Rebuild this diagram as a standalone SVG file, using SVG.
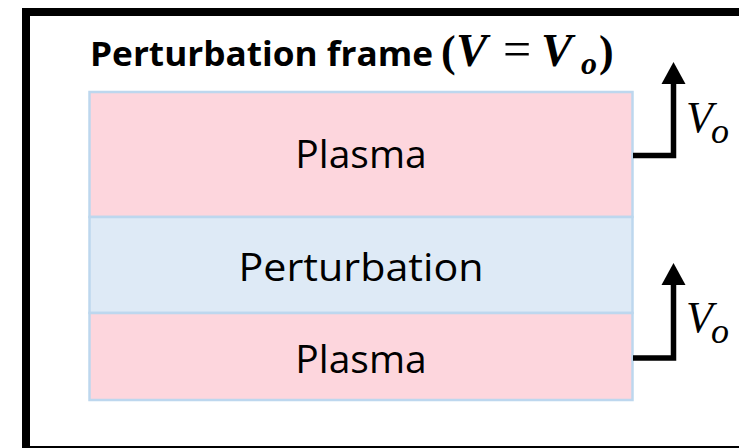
<svg xmlns="http://www.w3.org/2000/svg" width="739" height="448" viewBox="0 0 739 448">
  <style>
    .frame { fill: none; stroke: #000000; stroke-width: 8; stroke-linecap: square; }
    .plasma { fill: #FDD6DD; stroke: #BDD7EE; stroke-width: 2.5; }
    .pert { fill: #DEEAF6; stroke: #BDD7EE; stroke-width: 2.5; }
    .lbl { font-family: "Open Sans", "Noto Sans", "Liberation Sans", sans-serif; font-size: 39px; fill: #000; text-anchor: middle; }
    .title { font-family: "Open Sans", "Noto Sans", "Liberation Sans", sans-serif; font-size: 34px; font-weight: bold; fill: #000; }
    .math { font-family: "Liberation Serif", "DejaVu Serif", serif; fill: #000; }
    .conn { fill: none; stroke: #000; stroke-width: 5.5; stroke-linejoin: miter; }
    .head { fill: #000; }
  </style>
  <rect width="739" height="448" fill="#ffffff"/>
  <path id="frame" class="frame" d="M739,12 H26 V450 H739"/>

  <g id="title">
    <text class="title" x="90" y="66" textLength="343" lengthAdjust="spacingAndGlyphs">Perturbation frame</text>
    <text class="math" y="66" font-weight="bold"><tspan x="441" font-size="44">(</tspan><tspan x="456" font-size="47" font-style="italic">V</tspan><tspan x="503" font-size="50" font-weight="normal">=</tspan><tspan x="541" font-size="47" font-style="italic">V</tspan><tspan x="581" y="74" font-size="32" font-style="italic">o</tspan><tspan x="599" y="66" font-size="44">)</tspan></text>
  </g>

  <g id="plasma-top">
    <rect class="plasma" x="89.5" y="92" width="543" height="125"/>
    <text class="lbl" x="361" y="168">Plasma</text>
  </g>
  <g id="perturbation">
    <rect class="pert" x="89.5" y="217" width="543" height="96"/>
    <text class="lbl" x="361" y="281" textLength="245" lengthAdjust="spacingAndGlyphs">Perturbation</text>
  </g>
  <g id="plasma-bottom">
    <rect class="plasma" x="89.5" y="313" width="543" height="87"/>
    <text class="lbl" x="361" y="373">Plasma</text>
  </g>

  <g id="connectors">
    <path class="conn" d="M633,155.5 H673.5 V82"/>
    <polygon class="head" points="673.5,62 685.5,84 661.5,84"/>
    <path class="conn" d="M633,358 H673.5 V284"/>
    <polygon class="head" points="673.5,263 685.5,285 661.5,285"/>
  </g>

  <g id="label-vo-top">
    <text class="math" font-style="italic"><tspan x="686" y="132" font-size="44">V</tspan><tspan x="711" y="143" font-size="36">o</tspan></text>
  </g>
  <g id="label-vo-bottom">
    <text class="math" font-style="italic"><tspan x="686" y="332" font-size="44">V</tspan><tspan x="711" y="343" font-size="36">o</tspan></text>
  </g>
</svg>
